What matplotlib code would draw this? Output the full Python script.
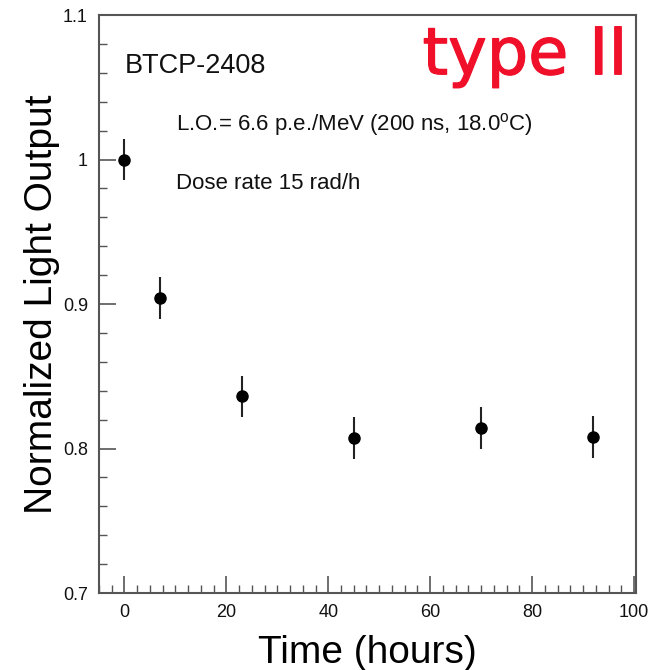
import matplotlib
matplotlib.use("Agg")
import matplotlib.pyplot as plt
import matplotlib.patheffects as pe
from matplotlib.ticker import MultipleLocator

plt.rcParams["font.family"] = ["Liberation Sans", "DejaVu Sans"]
plt.rcParams["mathtext.fontset"] = "custom"
plt.rcParams["mathtext.rm"] = "Liberation Sans"

# data
hours = [0, 7, 23, 45, 70, 92]
light_output = [1.000, 0.904, 0.836, 0.807, 0.814, 0.808]
errors = [0.0145, 0.0145, 0.0145, 0.0145, 0.0145, 0.0145]

axis_grey = "#555555"
tag_red = "#f0102a"

fig = plt.figure(figsize=(6.53, 6.70), dpi=100)
ax = fig.add_axes([0.1516, 0.1149, 0.8224, 0.8627])

ax.errorbar(hours, light_output, yerr=errors, fmt="o", color="black",
            markersize=8, elinewidth=1.5, ecolor="#222222", capsize=0)

ax.set_xlim(-5, 100.4)
ax.set_ylim(0.7, 1.1)
ax.xaxis.set_major_locator(MultipleLocator(20))
ax.xaxis.set_minor_locator(MultipleLocator(2.5))
ax.yaxis.set_minor_locator(MultipleLocator(0.02))
ax.set_yticks([0.7, 0.8, 0.9, 1.0, 1.1])
ax.set_yticklabels(["0.7", "0.8", "0.9", "1", "1.1"])

ax.tick_params(which="both", direction="in", color=axis_grey, labelsize=13,
               labelcolor="#111111", top=False, right=False)
ax.tick_params(which="major", length=12, width=1.2, pad=8)
ax.tick_params(which="minor", length=6, width=1.0)
for sp in ax.spines.values():
    sp.set_color(axis_grey)
    sp.set_linewidth(1.5)

ax.set_xlabel("Time (hours)", fontsize=28, labelpad=10)
ax.set_ylabel("Normalized Light Output", fontsize=28, labelpad=2)

ax.text(0.0, 1.065, "BTCP-2408", fontsize=19.5, va="center", ha="left",
        color="#111111")
ax.text(0.143, 0.81, r"L.O.= 6.6 p.e./MeV (200 ns, 18.0$^{\rm o}$C)",
        fontsize=16, va="center", ha="left", transform=ax.transAxes,
        color="#111111")
ax.text(0.143, 0.709, "Dose rate 15 rad/h", fontsize=16, va="center",
        ha="left", transform=ax.transAxes, color="#111111")
# red handwritten-style tag, thickened slightly with a stroke
ax.text(0.984, 0.984, "type II", fontsize=47, color=tag_red, va="top",
        ha="right", transform=ax.transAxes, family="DejaVu Sans",
        path_effects=[pe.withStroke(linewidth=0.9, foreground=tag_red)])

fig.savefig("out.png", dpi=100)
